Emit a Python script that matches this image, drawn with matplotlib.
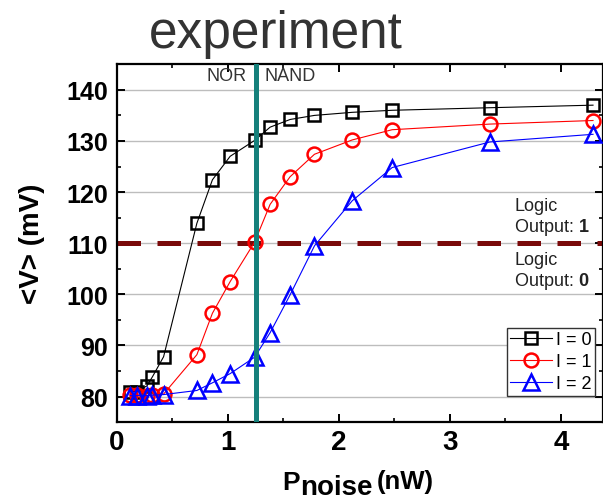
"""Mean voltage vs noise power for three input currents (logic gate demo)."""

import matplotlib.pyplot as plt
from matplotlib.ticker import MultipleLocator

# Data
p_noise = [0.12, 0.18, 0.27, 0.32, 0.42, 0.72, 0.86, 1.02, 1.24, 1.38, 1.56,
           1.78, 2.12, 2.48, 3.36, 4.29]
v_i0 = [81.0, 81.0, 82.1, 83.9, 87.8, 113.9, 122.4, 127.0, 130.1, 132.7, 134.2,
        135.0, 135.6, 136.0, 136.5, 137.0]
v_i1 = [80.4, 80.3, 80.2, 80.3, 80.5, 88.2, 96.3, 102.5, 110.2, 117.6, 123.0,
        127.4, 130.2, 132.2, 133.3, 134.0]
v_i2 = [80.2, 80.2, 80.2, 80.3, 80.4, 81.2, 82.7, 84.5, 87.7, 92.5, 99.9,
        109.5, 118.3, 124.8, 129.8, 131.3]
labels = ['I = 0', 'I = 1', 'I = 2']
threshold = 110
gate_switch = 1.25


def configure_plot():
    plt.rcParams.update({
        'font.family': ['Liberation Sans', 'DejaVu Sans'],
        'mathtext.fontset': 'custom',
        'mathtext.rm': 'Liberation Sans',
        'mathtext.bf': 'Liberation Sans:bold',
        'axes.linewidth': 1.6,
    })


def draw_xlabel(fig, ax):
    """P with a large 'noise' subscript and a raised (nW), chained left to right."""
    p = fig.text(282, 12, 'P', fontsize=19, fontweight='bold',
                 ha='left', va='baseline', transform=None)
    sub = ax.annotate('noise', xy=(1, 7), xycoords=(p, 'figure pixels'),
                      fontsize=20, fontweight='bold', ha='left', va='baseline')
    ax.annotate('(nW)', xy=(1, 13), xycoords=(sub, 'figure pixels'),
                xytext=(3, 0), textcoords='offset points',
                fontsize=18.5, fontweight='bold', ha='left', va='baseline')


def main():
    configure_plot()
    fig = plt.figure(figsize=(6.03, 5.02), dpi=100)
    ax = fig.add_axes([0.194, 0.157, 0.806, 0.713])

    styles = [
        dict(color='black', marker='s', ms=9),
        dict(color='red', marker='o', ms=10),
        dict(color='blue', marker='^', ms=11),
    ]
    for vals, lab, st in zip([v_i0, v_i1, v_i2], labels, styles):
        ax.plot(p_noise, vals, color=st['color'], lw=0.8, marker=st['marker'],
                ms=st['ms'], mfc='none', mec=st['color'], mew=1.8,
                label=lab, zorder=3, clip_on=False)

    ax.axhline(threshold, color='#7a0a0a', lw=3.6, ls=(0, (4.7, 3.3)), zorder=2)
    ax.axvline(gate_switch, color='#15807b', lw=3.6, zorder=4)

    ax.set_xlim(0, 4.38)
    ax.set_ylim(75, 145)
    ax.xaxis.set_major_locator(MultipleLocator(1))
    ax.xaxis.set_minor_locator(MultipleLocator(0.5))
    ax.yaxis.set_major_locator(MultipleLocator(10))
    ax.yaxis.set_minor_locator(MultipleLocator(5))
    ax.tick_params(which='both', direction='in', top=True, right=True)
    ax.tick_params(which='major', length=6, width=1.4)
    ax.tick_params(which='minor', length=3, width=1.2)
    ax.tick_params(axis='x', labelsize=20, pad=5)
    ax.tick_params(axis='y', labelsize=18, pad=6.5)
    for t in ax.get_xticklabels() + ax.get_yticklabels():
        t.set_fontweight('bold')
    ax.grid(axis='y', which='major', color='#bdbdbd', lw=1.0)
    ax.set_axisbelow(True)

    ax.set_ylabel('<V> (mV)', fontsize=20, fontweight='bold', labelpad=15)
    draw_xlabel(fig, ax)

    ax.text(1.17, 142.8, 'NOR', ha='right', va='center', fontsize=13, color='#333333')
    ax.text(1.33, 142.8, 'NAND', ha='left', va='center', fontsize=13, color='#333333')
    ax.text(3.58, 115.2, 'Logic\nOutput: $\\mathbf{1}$', ha='left', va='center',
            fontsize=13, color='#222222', linespacing=1.15)
    ax.text(3.58, 104.5, 'Logic\nOutput: $\\mathbf{0}$', ha='left', va='center',
            fontsize=13, color='#222222', linespacing=1.15)

    leg = ax.legend(loc='lower right', bbox_to_anchor=(0.983, 0.073), fontsize=13,
                    handlelength=2.3, handletextpad=0.2, borderpad=0.2,
                    borderaxespad=0, labelspacing=0.28, fancybox=False,
                    framealpha=1, edgecolor='#333333')
    leg.get_frame().set_linewidth(1.0)

    fig.text(0.457, 0.932, 'experiment', ha='center', va='center', fontsize=37,
             color='#333333')

    fig.savefig('out.png', dpi=100)


if __name__ == "__main__":
    main()
